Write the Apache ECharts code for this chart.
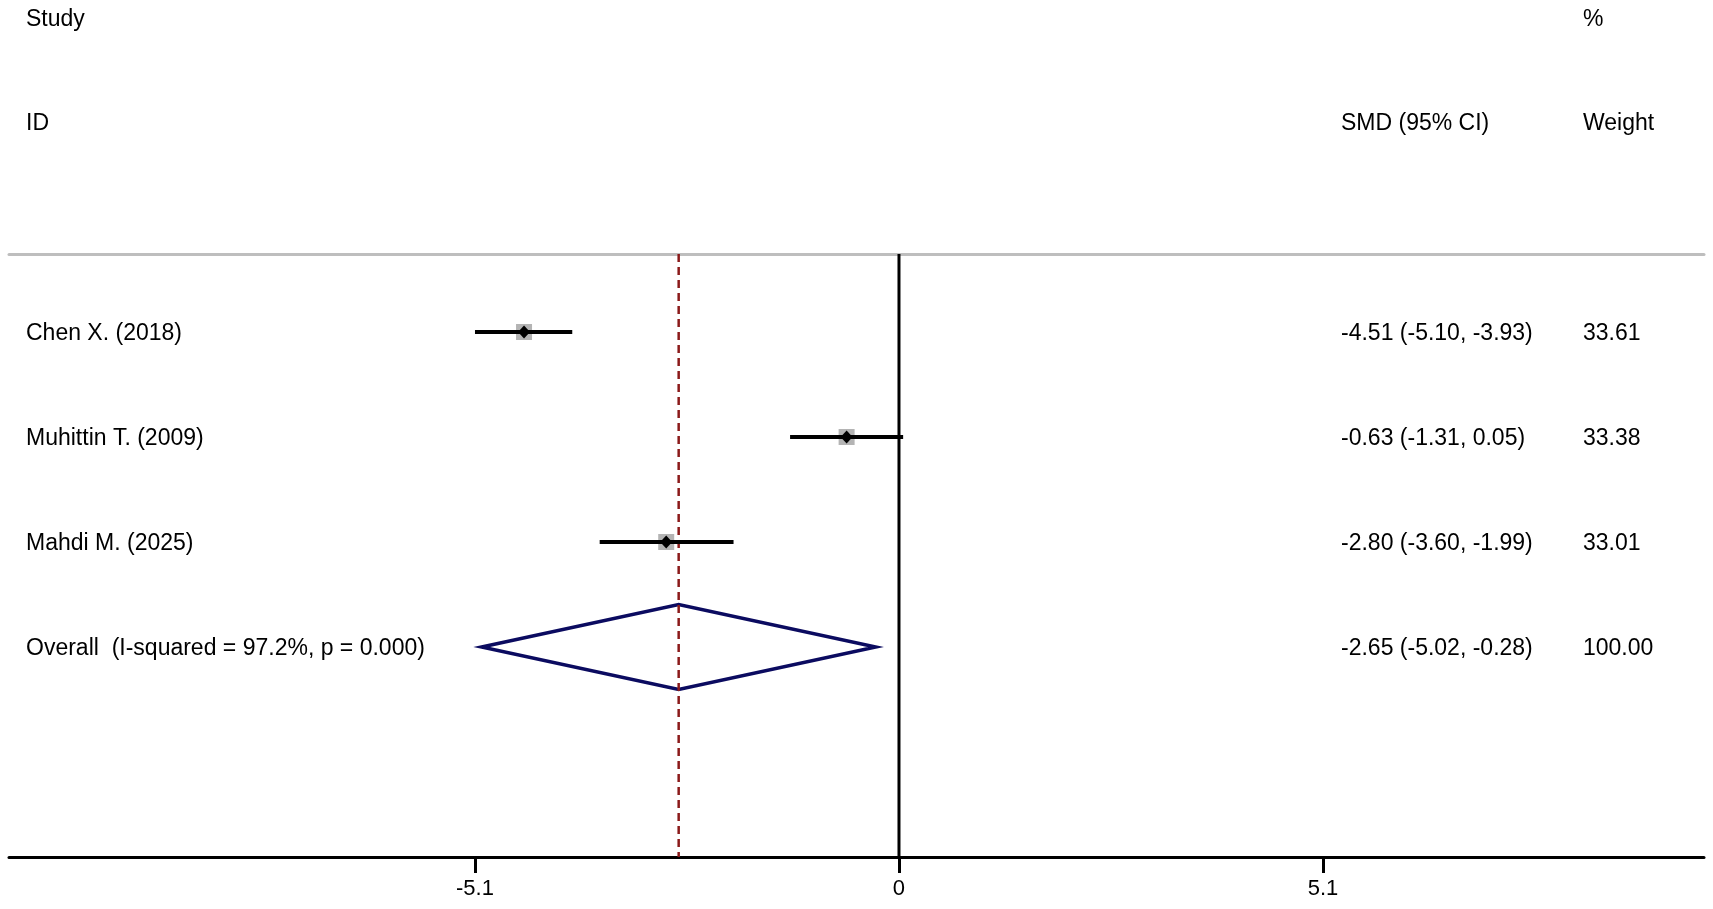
<!DOCTYPE html>
<html>
<head>
<meta charset="utf-8">
<script src="https://cdn.jsdelivr.net/npm/echarts@6/dist/echarts.min.js"></script>
<style>
html,body{margin:0;padding:0;background:#fff;}
#chart{width:1713px;height:909px;}
</style>
</head>
<body>
<div id="chart"></div>
<script>
// ---- data ----
const studies = ['Chen X. (2018)', 'Muhittin T. (2009)', 'Mahdi M. (2025)'];
const smd = [-4.51, -0.63, -2.80];
const lower = [-5.10, -1.31, -3.60];
const upper = [-3.93, 0.05, -1.99];
const ciText = ['-4.51 (-5.10, -3.93)', '-0.63 (-1.31, 0.05)', '-2.80 (-3.60, -1.99)'];
const weights = ['33.61', '33.38', '33.01'];
const overallLabel = 'Overall  (I-squared = 97.2%, p = 0.000)';
const overallEst = [-2.65];
const overallLower = [-5.02];
const overallUpper = [-0.28];
const overallCiText = ['-2.65 (-5.02, -0.28)'];
const overallWeight = ['100.00'];
const tickValues = [-5.1, 0, 5.1];
const tickLabels = ['-5.1', '0', '5.1'];
const headerLeft = ['Study', 'ID'];
const headerCI = 'SMD (95% CI)';
const headerWeight = ['%', 'Weight'];

// ---- layout ----
const X_MIN = -10.705, X_MAX = 9.683;
const Y_MIN = 0.2571, Y_MAX = 6;
const FONT = 'Liberation Sans, Arial, sans-serif';
const rows = studies.map((_, i) => i + 1);
const overallRow = studies.length + 1;

const studyData = studies.map((_, i) => [smd[i], lower[i], upper[i], rows[i]]);
const textRows = studies.map((s, i) => ({label: s, ci: ciText[i], w: weights[i], row: rows[i]}))
  .concat([{label: overallLabel, ci: overallCiText[0], w: overallWeight[0], row: overallRow}]);

const chart = echarts.init(document.getElementById('chart'), null, {renderer: 'canvas'});

const option = {
  animation: false,
  backgroundColor: '#fff',
  grid: {left: 9, right: 9, top: 254, bottom: 52},
  xAxis: [
    {
      type: 'value', min: X_MIN, max: X_MAX, position: 'bottom',
      splitLine: {show: false},
      axisLine: {show: true, onZero: false, lineStyle: {color: '#000', width: 3}},
      axisTick: {show: true, customValues: tickValues, length: 16, lineStyle: {color: '#000', width: 3}},
      axisLabel: {
        show: true, customValues: tickValues, fontSize: 22, color: '#000', fontFamily: FONT, margin: 21,
        formatter: function (v) {
          const idx = tickValues.findIndex(t => Math.abs(t - v) < 1e-6);
          return idx >= 0 ? tickLabels[idx] : '';
        }
      }
    },
    {
      type: 'value', min: X_MIN, max: X_MAX, position: 'top',
      splitLine: {show: false},
      axisLine: {show: true, onZero: false, lineStyle: {color: '#bebebe', width: 3}},
      axisTick: {show: false}, axisLabel: {show: false}
    }
  ],
  yAxis: {type: 'value', min: Y_MIN, max: Y_MAX, inverse: true, show: false},
  graphic: [
    {type: 'text', left: 26, top: 8, style: {text: headerLeft[0], font: '23px ' + FONT, fill: '#000'}},
    {type: 'text', left: 26, top: 112, style: {text: headerLeft[1], font: '23px ' + FONT, fill: '#000'}},
    {type: 'text', left: 1341, top: 112, style: {text: headerCI, font: '23px ' + FONT, fill: '#000'}},
    {type: 'text', left: 1583, top: 8, style: {text: headerWeight[0], font: '23px ' + FONT, fill: '#000'}},
    {type: 'text', left: 1583, top: 112, style: {text: headerWeight[1], font: '23px ' + FONT, fill: '#000'}}
  ],
  series: [
    {
      type: 'line', name: 'null', data: [[0, Y_MIN], [0, Y_MAX]], symbol: 'none',
      lineStyle: {color: '#000', width: 3}, z: 2, silent: true
    },
    {
      type: 'custom', name: 'overall', z: 3,
      data: [[overallEst[0], overallLower[0], overallUpper[0], overallRow]],
      renderItem: function (params, api) {
        const est = api.value(0), lo = api.value(1), hi = api.value(2), r = api.value(3);
        const h = 0.405;
        const pts = [api.coord([lo, r]), api.coord([est, r - h]), api.coord([hi, r]), api.coord([est, r + h])];
        return {
          type: 'polygon', shape: {points: pts},
          style: {fill: 'none', stroke: '#0b0b60', lineWidth: 3.5, lineJoin: 'miter'}
        };
      }
    },
    {
      type: 'line', name: 'overallLine', data: [[overallEst[0], Y_MIN], [overallEst[0], Y_MAX]], symbol: 'none',
      lineStyle: {color: '#8b1a1a', width: 2.5, type: [8, 5]}, z: 4, silent: true
    },
    {
      type: 'custom', name: 'studies', z: 5,
      data: studyData,
      renderItem: function (params, api) {
        const est = api.value(0), lo = api.value(1), hi = api.value(2), r = api.value(3);
        const c = api.coord([est, r]);
        const pLo = api.coord([lo, r]);
        const pHi = api.coord([hi, r]);
        return {
          type: 'group',
          children: [
            {type: 'rect', shape: {x: c[0] - 8, y: c[1] - 8, width: 16, height: 16}, style: {fill: '#b4b4b4'}},
            {type: 'line', shape: {x1: pLo[0], y1: c[1], x2: pHi[0], y2: c[1]}, style: {stroke: '#000', lineWidth: 4}},
            {type: 'polygon', shape: {points: [[c[0] - 6, c[1]], [c[0], c[1] - 6.5], [c[0] + 6, c[1]], [c[0], c[1] + 6.5]]}, style: {fill: '#000'}}
          ]
        };
      }
    },
    {
      type: 'custom', name: 'texts', z: 6,
      data: textRows.map(t => [0, t.row]),
      renderItem: function (params, api) {
        const t = textRows[params.dataIndex];
        const y = api.coord([0, api.value(1)])[1] + 2;
        const st = {font: '23px ' + FONT, fill: '#000', verticalAlign: 'middle', align: 'left'};
        return {
          type: 'group',
          children: [
            {type: 'text', x: 26, y: y, style: Object.assign({text: t.label}, st)},
            {type: 'text', x: 1341, y: y, style: Object.assign({text: t.ci}, st)},
            {type: 'text', x: 1583, y: y, style: Object.assign({text: t.w}, st)}
          ]
        };
      }
    }
  ]
};
chart.setOption(option);
</script>
</body>
</html>
